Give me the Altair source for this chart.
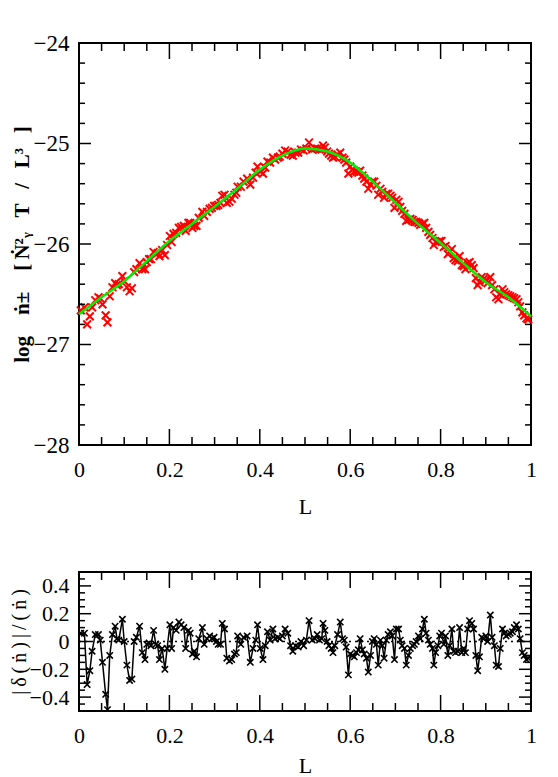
import altair as alt
import pandas as pd

# ---------------- data ----------------
fit_L = [0.00, 0.05, 0.10, 0.15, 0.20, 0.25, 0.30, 0.35, 0.40, 0.45, 0.50,
         0.55, 0.60, 0.65, 0.70, 0.75, 0.80, 0.85, 0.90, 0.95, 1.00]
fit_logn = [-26.70, -26.53, -26.37, -26.17, -25.97, -25.80, -25.63, -25.45, -25.26, -25.12, -25.05,
            -25.08, -25.19, -25.38, -25.59, -25.80, -25.99, -26.19, -26.38, -26.53, -26.72]

pts_L = [
    0.004, 0.012, 0.018, 0.024, 0.029, 0.036, 0.043, 0.047, 0.052, 0.059,
    0.063, 0.068, 0.074, 0.080, 0.084, 0.088, 0.096, 0.100, 0.106, 0.112,
    0.117, 0.122, 0.127, 0.134, 0.140, 0.146, 0.150, 0.155, 0.159, 0.165,
    0.170, 0.174, 0.178, 0.184, 0.190, 0.195, 0.201, 0.205, 0.209, 0.215,
    0.221, 0.226, 0.232, 0.236, 0.242, 0.246, 0.251, 0.255, 0.260, 0.265,
    0.273, 0.277, 0.283, 0.289, 0.294, 0.299, 0.304, 0.308, 0.313, 0.317,
    0.322, 0.327, 0.333, 0.338, 0.344, 0.348,
    0.351, 0.358, 0.364, 0.372, 0.379, 0.385, 0.391, 0.395, 0.401, 0.407,
    0.412, 0.417, 0.423, 0.429, 0.434, 0.440, 0.444, 0.450, 0.456, 0.462,
    0.468, 0.473, 0.479, 0.485, 0.491, 0.497, 0.503, 0.509,
    0.516, 0.522, 0.527, 0.532, 0.537, 0.540, 0.544, 0.549, 0.553, 0.558,
    0.562, 0.566, 0.572, 0.578, 0.583, 0.587, 0.591, 0.596, 0.600, 0.605,
    0.609, 0.614, 0.618, 0.622, 0.627, 0.631, 0.636, 0.640, 0.645, 0.649,
    0.653, 0.658, 0.662, 0.667, 0.671, 0.675, 0.680, 0.684, 0.689, 0.693,
    0.698, 0.702, 0.707, 0.711, 0.715, 0.720, 0.724, 0.729, 0.733, 0.738,
    0.742, 0.746, 0.751, 0.755, 0.760, 0.764, 0.768, 0.773, 0.777, 0.782,
    0.785, 0.789, 0.794, 0.798, 0.802, 0.807, 0.811, 0.816, 0.820, 0.825,
    0.829, 0.833, 0.838, 0.842, 0.847, 0.851, 0.855, 0.860, 0.864, 0.869,
    0.873, 0.878, 0.882, 0.886, 0.891, 0.895, 0.900, 0.904, 0.910, 0.914,
    0.919, 0.923, 0.928, 0.932, 0.937, 0.941, 0.945, 0.950, 0.954, 0.959,
    0.963, 0.968, 0.972, 0.976, 0.981, 0.985, 0.990, 0.994]

pts_logn = [
    -26.66, -26.63, -26.80, -26.72, -26.63, -26.56, -26.53, -26.54, -26.60, -26.71,
    -26.78, -26.52, -26.43, -26.39, -26.41, -26.40, -26.32, -26.37, -26.43, -26.47,
    -26.44, -26.28, -26.25, -26.19, -26.25, -26.25, -26.18, -26.15, -26.15, -26.08,
    -26.10, -26.09, -26.12, -26.06, -26.11, -26.01, -25.92, -25.98, -25.90, -25.89,
    -25.84, -25.83, -25.82, -25.87, -25.79, -25.79, -25.84, -25.82, -25.82, -25.74,
    -25.68, -25.72, -25.68, -25.65, -25.64, -25.62, -25.62, -25.61, -25.59, -25.52,
    -25.51, -25.59, -25.58, -25.55, -25.51, -25.49,
    -25.43, -25.43, -25.38, -25.35, -25.41, -25.34, -25.29, -25.23, -25.28, -25.30,
    -25.24, -25.18, -25.19, -25.14, -25.16, -25.14, -25.13, -25.10, -25.07, -25.08,
    -25.11, -25.12, -25.09, -25.09, -25.06, -25.07, -25.05, -24.99,
    -25.06, -25.05, -25.05, -25.06, -25.06, -25.02, -25.04, -25.08, -25.10, -25.12,
    -25.14, -25.13, -25.11, -25.09, -25.14, -25.16, -25.19, -25.30, -25.23, -25.26,
    -25.28, -25.28, -25.29, -25.27, -25.32, -25.35, -25.38, -25.45, -25.41, -25.38,
    -25.38, -25.42, -25.51, -25.45, -25.48, -25.54, -25.50, -25.50, -25.52, -25.54,
    -25.64, -25.56, -25.58, -25.63, -25.67, -25.70, -25.77, -25.76, -25.75, -25.76,
    -25.78, -25.78, -25.79, -25.81, -25.80, -25.79, -25.84, -25.88, -25.91, -25.94,
    -26.01, -25.98, -25.98, -25.97, -25.97, -26.03, -26.02, -26.10, -26.08, -26.05,
    -26.14, -26.16, -26.17, -26.12, -26.21, -26.22, -26.25, -26.19, -26.18, -26.21,
    -26.24, -26.34, -26.41, -26.38, -26.33, -26.35, -26.36, -26.39, -26.33, -26.41,
    -26.45, -26.53, -26.55, -26.50, -26.45, -26.48, -26.50, -26.51, -26.52, -26.53,
    -26.54, -26.55, -26.58, -26.62, -26.68, -26.71, -26.74, -26.75]

pts_delta = [
    0.06, 0.06, -0.31, -0.21, -0.07, 0.05, 0.05, 0.01, -0.15, -0.38,
    -0.49, -0.10, 0.05, 0.11, 0.02, 0.01, 0.16, 0.00, -0.17, -0.28,
    -0.27, 0.00, 0.03, 0.11, -0.08, -0.13, -0.02, -0.01, -0.03, 0.08,
    -0.02, -0.03, -0.13, -0.05, -0.20, -0.05, 0.12, -0.05, 0.10, 0.08,
    0.14, 0.12, 0.10, -0.05, 0.08, 0.06, -0.09, -0.07, -0.11, 0.02,
    0.10, -0.02, 0.02, 0.04, 0.02, 0.03, 0.00, -0.02, -0.02, 0.13,
    0.09, -0.12, -0.14, -0.13, -0.09, -0.08,
    0.04, -0.02, 0.03, 0.04, -0.15, -0.05, 0.01, 0.12, -0.05, -0.13,
    -0.03, 0.07, 0.01, 0.09, 0.02, 0.03, 0.02, 0.04, 0.09, 0.06,
    -0.03, -0.07, -0.03, -0.04, 0.00, -0.03, 0.01, 0.15,
    0.01, 0.02, 0.05, 0.01, 0.02, 0.13, 0.08, 0.00, -0.03, -0.05,
    -0.08, -0.03, 0.05, 0.14, 0.02, 0.01, -0.04, -0.24, -0.09, -0.10,
    -0.11, -0.08, -0.06, 0.02, -0.06, -0.09, -0.12, -0.22, -0.10, 0.00,
    0.02, -0.02, -0.17, 0.01, -0.03, -0.12, 0.01, 0.05, 0.07, 0.04,
    -0.13, 0.09, 0.09, 0.01, -0.03, -0.05, -0.17, -0.10, -0.05, -0.03,
    -0.02, 0.00, 0.04, 0.02, 0.09, 0.16, 0.06, 0.01, -0.02, -0.05,
    -0.17, -0.08, -0.03, 0.04, 0.06, -0.02, 0.04, -0.10, -0.03, 0.09,
    -0.07, -0.08, -0.07, 0.10, -0.08, -0.05, -0.08, 0.09, 0.15, 0.13,
    0.09, -0.10, -0.21, -0.11, 0.03, 0.02, 0.04, 0.00, 0.19, 0.03,
    -0.03, -0.17, -0.18, -0.05, 0.09, 0.06, 0.04, 0.05, 0.06, 0.07,
    0.10, 0.12, 0.09, 0.02, -0.08, -0.10, -0.13, -0.12]

# axis tick positions / labels
x_labels = [0, 0.2, 0.4, 0.6, 0.8, 1]
x_minor = [0.05, 0.1, 0.15, 0.25, 0.3, 0.35, 0.45, 0.5, 0.55, 0.65, 0.7, 0.75, 0.85, 0.9, 0.95]
top_y_labels = [-28, -27, -26, -25, -24]
top_y_minor = [-27.8, -27.6, -27.4, -27.2, -26.8, -26.6, -26.4, -26.2,
               -25.8, -25.6, -25.4, -25.2, -24.8, -24.6, -24.4, -24.2]
bot_y_labels = [-0.4, -0.2, 0, 0.2, 0.4]
bot_y_minor = [-0.5, -0.45, -0.35, -0.3, -0.25, -0.15, -0.1, -0.05,
               0.05, 0.1, 0.15, 0.25, 0.3, 0.35, 0.45, 0.5]

EM, EN, TH = "\u2003", "\u2002", "\u2009"
TOP_YTITLE = "log" + EM + "ṅ±" + EM + "[" + TH + "Ṅ²ᵧ" + EN + TH + "T" + EN + TH + "/" + EN + TH + "L³" + EN + TH + "]"
BOT_YTITLE = TH.join(["|", "δ", "(", "ṅ", ")", "|", "/", "(", "ṅ", ")"])

# ---------------- chart ----------------
W = 452
H1 = 402
H2 = 139
FONT = "Liberation Serif"
XSHAPE = "M-1,-1L1,1M-1,1L1,-1"

df_fit = pd.DataFrame({"L": fit_L, "logn": fit_logn})
df_pts = pd.DataFrame({"L": pts_L, "logn": pts_logn, "delta": pts_delta})

xs = alt.Scale(domain=[0, 1], nice=False, zero=False)
ys1 = alt.Scale(domain=[-28, -24], nice=False, zero=False)
ys2 = alt.Scale(domain=[-0.5, 0.5], nice=False, zero=False)


def make_x_axis(title_pad):
    return alt.Axis(values=x_labels, format="~g", ticks=False, domain=False, grid=False,
                    labelFont=FONT, labelFontSize=22, labelColor="black", labelPadding=14,
                    labelFlush=False, title="L", titleFont=FONT, titleFontSize=22,
                    titleFontWeight="normal", titleColor="black", titlePadding=title_pad)


X1_AXIS = make_x_axis(16)
X2_AXIS = make_x_axis(9)
Y1_AXIS = alt.Axis(values=top_y_labels, format="d", ticks=False, domain=False, grid=False,
                   labelFont=FONT, labelFontSize=23, labelColor="black", labelPadding=10,
                   title=TOP_YTITLE, titleFont=FONT, titleFontSize=21,
                   titleFontWeight="bold", titleColor="black", titlePadding=1)
Y2_AXIS = alt.Axis(values=bot_y_labels, format="~g", ticks=False, domain=False, grid=False,
                   labelFont=FONT, labelFontSize=22, labelColor="black", labelPadding=10,
                   title=BOT_YTITLE, titleFont=FONT, titleFontSize=20,
                   titleFontWeight="normal", titleColor="black", titlePadding=0)


def tick_layers(vals_major, vals_minor, scale, axis, channel, size_px, major_len, minor_len):
    layers = []
    for vals, ln in ((vals_major, major_len), (vals_minor, minor_len)):
        d = pd.DataFrame({"L": vals, "logn": vals, "delta": vals})
        base = alt.Chart(d).mark_rule(color="black", strokeWidth=1.5)
        if channel == "x":
            enc = dict(x=alt.X("L:Q", scale=scale, axis=axis))
            layers.append(base.encode(y=alt.value(size_px), y2=alt.value(size_px - ln), **enc))
            layers.append(base.encode(y=alt.value(0), y2=alt.value(ln), **enc))
        else:
            enc = dict(y=alt.Y(channel + ":Q", scale=scale, axis=axis))
            layers.append(base.encode(x=alt.value(0), x2=alt.value(ln), **enc))
            layers.append(base.encode(x=alt.value(size_px), x2=alt.value(size_px - ln), **enc))
    return layers


# top panel
red = alt.Chart(df_pts).mark_point(shape=XSHAPE, size=60, filled=False, color="#ff0000",
                                   strokeWidth=2, opacity=1).encode(
    x=alt.X("L:Q", scale=xs, axis=X1_AXIS),
    y=alt.Y("logn:Q", scale=ys1, axis=Y1_AXIS),
)
green = alt.Chart(df_fit).mark_line(color="#00ee00", strokeWidth=2.5, interpolate="monotone").encode(
    x=alt.X("L:Q", scale=xs, axis=X1_AXIS), y=alt.Y("logn:Q", scale=ys1, axis=Y1_AXIS))

top = alt.layer(
    red, green,
    *tick_layers(x_labels, x_minor, xs, X1_AXIS, "x", H1, 16, 8),
    *tick_layers(top_y_labels, top_y_minor, ys1, Y1_AXIS, "logn", W, 12, 6),
).properties(width=W, height=H1)

# bottom panel
zero = alt.Chart(pd.DataFrame({"delta": [0]})).mark_rule(color="black", strokeWidth=1.5,
                                                          strokeDash=[2, 4]).encode(
    y=alt.Y("delta:Q", scale=ys2, axis=Y2_AXIS))
res_line = alt.Chart(df_pts).mark_line(color="black", strokeWidth=1.5, clip=True).encode(
    x=alt.X("L:Q", scale=xs, axis=X2_AXIS),
    y=alt.Y("delta:Q", scale=ys2, axis=Y2_AXIS),
)
res_pts = alt.Chart(df_pts).mark_point(shape=XSHAPE, size=40, filled=False, color="black",
                                       strokeWidth=1.6, opacity=1, clip=True).encode(
    x=alt.X("L:Q", scale=xs, axis=X2_AXIS), y=alt.Y("delta:Q", scale=ys2, axis=Y2_AXIS))

bottom = alt.layer(
    zero, res_line, res_pts,
    *tick_layers(x_labels, x_minor, xs, X2_AXIS, "x", H2, 16, 8),
    *tick_layers(bot_y_labels, bot_y_minor, ys2, Y2_AXIS, "delta", W, 12, 6),
).properties(width=W, height=H2)

chart = alt.vconcat(top, bottom, spacing=52).properties(
    padding={"left": 0, "top": 23, "right": 5, "bottom": 0}
).configure_view(stroke="black", strokeWidth=2)

chart.save("out.html", embed_options={"renderer": "svg", "actions": False})
